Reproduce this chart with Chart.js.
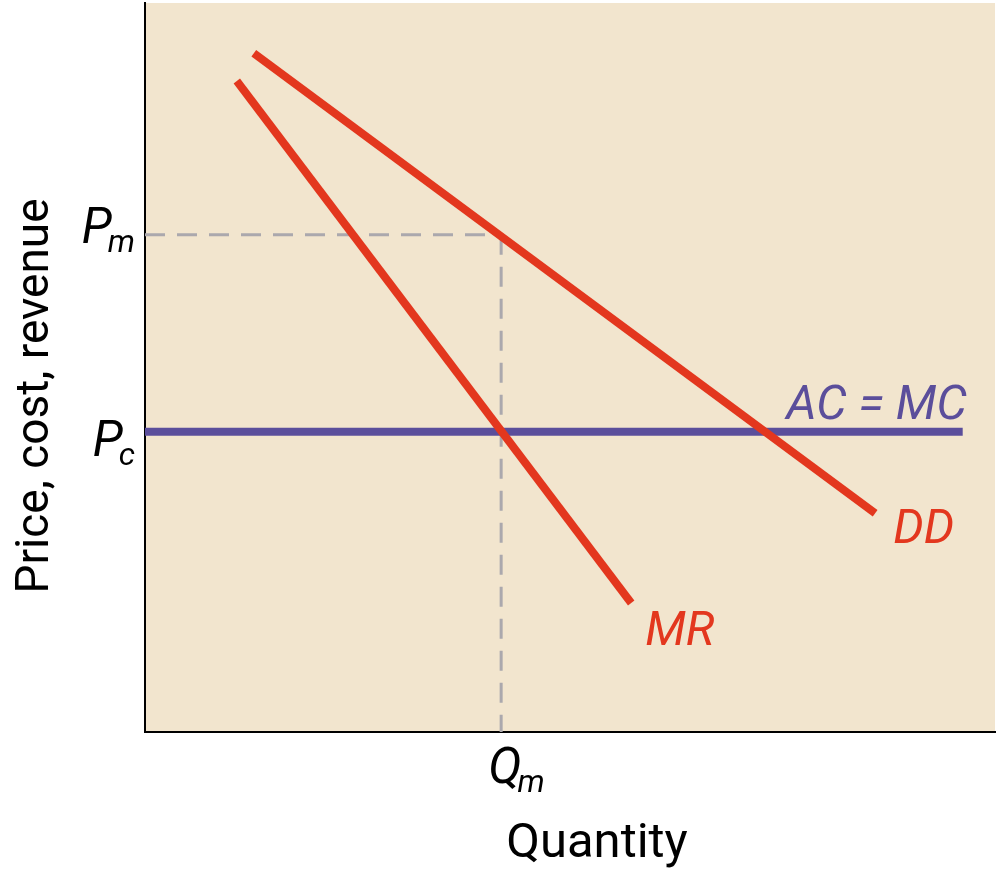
<!DOCTYPE html>
<html><head><meta charset="utf-8">
<script src="https://cdn.jsdelivr.net/npm/chart.js@4"></script>
<style>html,body{margin:0;padding:0;background:#fff}#wrap{width:1000px;height:880px}</style>
</head><body><div id="wrap"><canvas id="c" width="1000" height="880"></canvas></div>
<script>
// ---- data ----
const ddQuantity = [12.8, 85.9];
const ddPrice = [93.1, 30.0];
const mrQuantity = [10.8, 57.2];
const mrPrice = [89.3, 17.7];
const acmcQuantity = [0, 96.2];
const acmcPrice = [41.2, 41.2];
const monopolyQuantity = 41.9;
const monopolyPrice = 68.2;
const competitivePrice = 41.2;
const yTickValues = [monopolyPrice, competitivePrice];
const yTickMain = ['P', 'P'];
const yTickSub = ['m', 'c'];
const xTickValues = [monopolyQuantity];
const xTickMain = ['Q'];
const xTickSub = ['m'];
const curveNames = ['DD', 'MR', 'AC = MC'];
const xTitle = 'Quantity';
const yTitle = 'Price, cost, revenue';

// ---- styles ----
const RED = '#E3371E', PURPLE = '#5B4E9B', GRAY = '#ABA8AD', BG = '#F2E5CE';
const pts = (xs, ys) => xs.map((x, i) => ({x, y: ys[i]}));

const bgPlugin = {
  id: 'bg',
  beforeDraw(chart) {
    const {ctx, chartArea: a} = chart;
    ctx.save(); ctx.fillStyle = BG;
    ctx.fillRect(a.left, a.top, a.right - a.left, a.bottom - a.top);
    ctx.restore();
  }
};

function subLabel(ctx, main, sub, x, baseMain, baseSub, align, mainSize, subSize) {
  ctx.font = 'italic ' + mainSize + 'px Roboto';
  const wm = ctx.measureText(main).width;
  ctx.font = 'italic ' + subSize + 'px Roboto';
  const ws = ctx.measureText(sub).width;
  const overlap = 4;
  const total = wm + ws - overlap;
  const left = align === 'right' ? x - total : x;
  ctx.textAlign = 'left'; ctx.textBaseline = 'alphabetic';
  ctx.font = 'italic ' + mainSize + 'px Roboto';
  ctx.fillText(main, left, baseMain);
  ctx.font = 'italic ' + subSize + 'px Roboto';
  ctx.fillText(sub, left + wm - overlap, baseSub);
}

const labelPlugin = {
  id: 'labels',
  afterDraw(chart) {
    const {ctx, scales: {x, y}, chartArea: a} = chart;
    ctx.save();
    ctx.fillStyle = '#000';
    // y tick labels
    const yOffsets = [8, 24];
    yTickValues.forEach((v, i) => {
      const py = y.getPixelForValue(v);
      subLabel(ctx, yTickMain[i], yTickSub[i], a.left - 10, py + yOffsets[i], py + yOffsets[i] + 9, 'right', 49, 32);
    });
    // x tick labels
    xTickValues.forEach((v, i) => {
      const px = x.getPixelForValue(v);
      subLabel(ctx, xTickMain[i], xTickSub[i], px - 13, a.bottom + 51, a.bottom + 60, 'left', 50, 32);
    });
    // axis titles
    ctx.font = '49px Roboto';
    ctx.textAlign = 'center'; ctx.textBaseline = 'alphabetic';
    ctx.fillText(xTitle, 597, 857);
    ctx.save();
    ctx.translate(48, 396);
    ctx.rotate(-Math.PI / 2);
    ctx.font = '46px Roboto';
    ctx.fillText(yTitle, 0, 0);
    ctx.restore();
    // curve labels
    ctx.font = 'italic 48px Roboto';
    ctx.textAlign = 'left';
    ctx.fillStyle = RED;
    ctx.fillText(curveNames[0], x.getPixelForValue(ddQuantity[1]) + 18, y.getPixelForValue(ddPrice[1]) + 30);
    ctx.fillText(curveNames[1], x.getPixelForValue(mrQuantity[1]) + 14, y.getPixelForValue(mrPrice[1]) + 42);
    ctx.fillStyle = PURPLE;
    ctx.textAlign = 'right';
    ctx.fillText(curveNames[2], x.getPixelForValue(acmcQuantity[1]) + 4, y.getPixelForValue(acmcPrice[1]) - 13);
    ctx.restore();
  }
};

const lineDs = (label, data, color, width, order, dash) => ({
  label, data, borderColor: color, backgroundColor: color, borderWidth: width,
  showLine: true, pointRadius: 0, pointHoverRadius: 0, fill: false, tension: 0,
  borderCapStyle: 'butt', borderDash: dash || [], order
});

new Chart(document.getElementById('c'), {
  type: 'scatter',
  data: {
    datasets: [
      lineDs('MR', pts(mrQuantity, mrPrice), RED, 8, 0),
      lineDs('DD', pts(ddQuantity, ddPrice), RED, 8, 1),
      lineDs('AC = MC', pts(acmcQuantity, acmcPrice), PURPLE, 8, 2),
      lineDs('Pm', [{x: 0, y: monopolyPrice}, {x: monopolyQuantity, y: monopolyPrice}], GRAY, 3, 3, [20, 12]),
      lineDs('Qm', [{x: monopolyQuantity, y: monopolyPrice}, {x: monopolyQuantity, y: 0}], GRAY, 3, 4, [20, 12])
    ]
  },
  options: {
    responsive: false, animation: false,
    layout: {padding: {top: 3, right: 5, left: 0, bottom: 0}},
    plugins: {legend: {display: false}, tooltip: {enabled: false}},
    scales: {
      x: {type: 'linear', min: 0, max: 100, ticks: {display: false}, grid: {display: false},
          border: {display: true, color: '#000', width: 2}, afterFit: s => { s.height = 148; }},
      y: {type: 'linear', min: 0, max: 100, ticks: {display: false}, grid: {display: false},
          border: {display: true, color: '#000', width: 2}, afterFit: s => { s.width = 145; }}
    }
  },
  plugins: [bgPlugin, labelPlugin]
});
</script></body></html>
